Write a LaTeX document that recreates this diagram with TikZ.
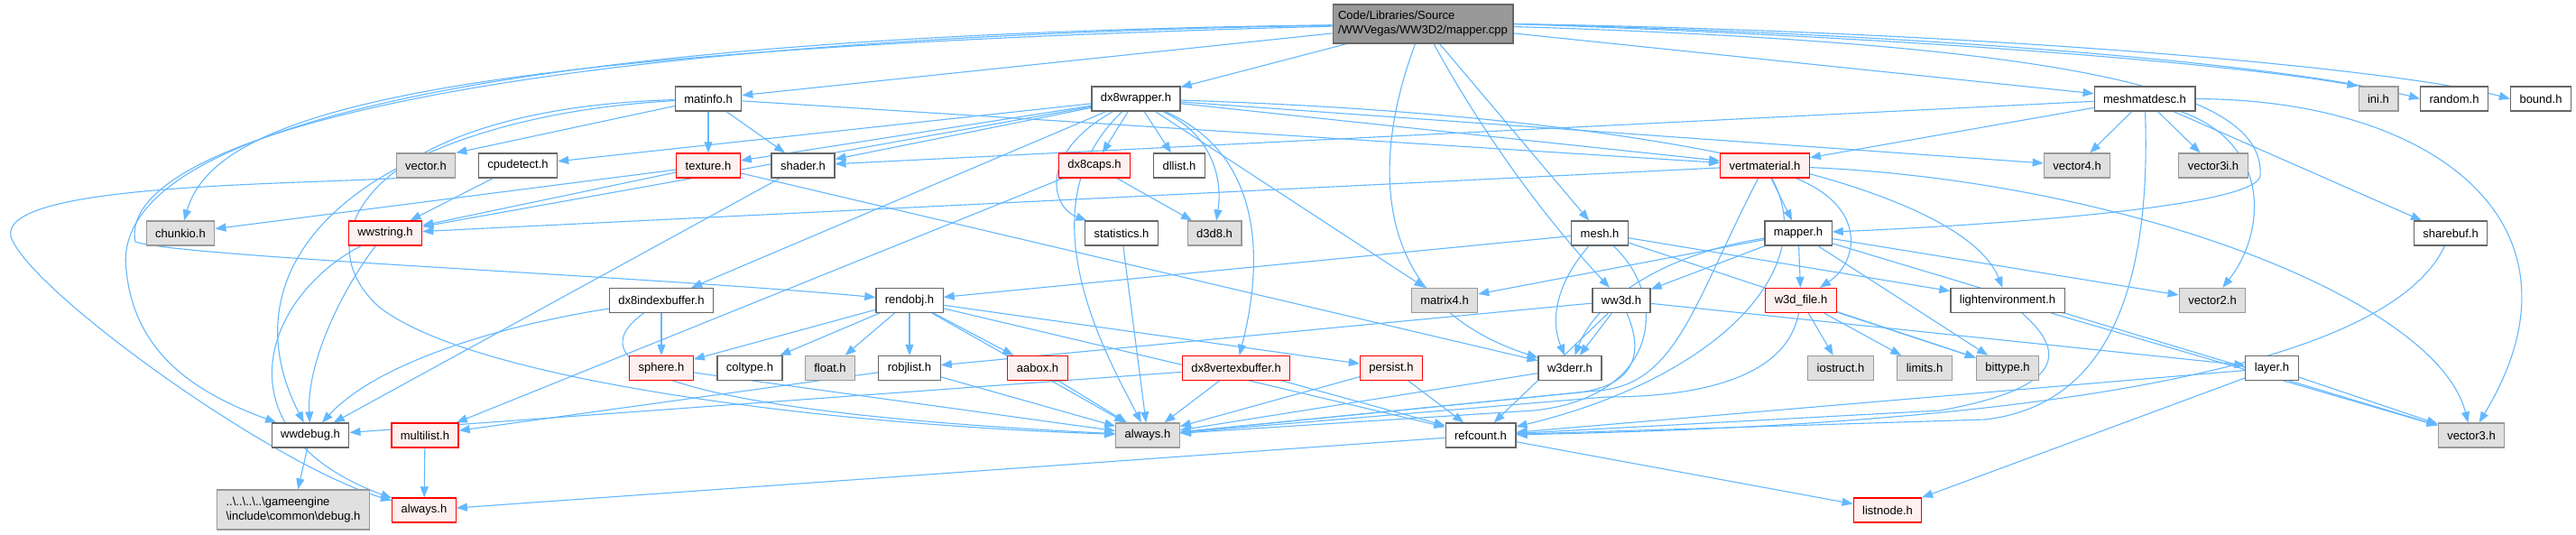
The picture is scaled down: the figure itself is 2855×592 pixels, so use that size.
\documentclass[tikz,border=0pt]{standalone}
\usepackage{fontspec}
\setmainfont{Liberation Sans}
\usetikzlibrary{arrows.meta,backgrounds}
\definecolor{edgeblue}{RGB}{99,184,255}
\definecolor{boxline}{RGB}{102,102,102}
\definecolor{extline}{RGB}{153,153,153}
\definecolor{extfill}{RGB}{224,224,224}
\definecolor{cutfill}{RGB}{255,240,240}
\definecolor{rootfill}{RGB}{153,153,153}

\begin{document}
\begin{tikzpicture}[
  x=1pt,y=-1pt,
  font=\fontsize{13}{16}\selectfont,
  hdr/.style={draw=boxline,fill=white,line width=1.2pt,
              minimum height=27pt,inner xsep=10pt,inner ysep=2pt},
  ext/.style={hdr,draw=extline,fill=extfill},
  cut/.style={hdr,draw=red,fill=cutfill},
  src/.style={hdr,fill=rootfill,align=left,inner xsep=6pt,minimum height=43pt},
  inc/.style={-{Triangle[length=12pt,width=9pt]},draw=edgeblue,line width=1.1pt}
]
\useasboundingbox (0,0) rectangle (2855,592);

% The file itself.
\node[src] (root) at (1577,26.5) {Code/Libraries/Source\\/WWVegas/WW3D2/mapper.cpp};

% First row of headers.
\node[hdr] (matinfo) at (785,109.5) {matinfo.h};
\node[hdr] (dxwrap)  at (1259,109.5) {dx8wrapper.h};
\node[hdr] (meshmat) at (2377,109.5) {meshmatdesc.h};
\node[ext] (ini)     at (2636,109.5) {ini.h};
\node[hdr] (random)  at (2720,109.5) {random.h};
\node[hdr] (bound)   at (2816,109.5) {bound.h};

% Second row.
\node[ext] (vectorh)   at (472,183.5) {vector.h};
\node[hdr] (cpudetect) at (574,183.5) {cpudetect.h};
\node[cut] (texture)   at (785,183.5) {texture.h};
\node[hdr] (shader)    at (890,183.5) {shader.h};
\node[cut] (dxcaps)    at (1213,183.5) {dx8caps.h};
\node[hdr] (dllist)    at (1307,183.5) {dllist.h};
\node[cut] (vertmat)   at (1956,183.5) {vertmaterial.h};
\node[ext] (vecfour)   at (2302,183.5) {vector4.h};
\node[ext] (vecthreei) at (2453,183.5) {vector3i.h};

% Third row.
\node[ext] (chunkio)    at (200,258.5) {chunkio.h};
\node[cut] (wwstring)   at (427,258.5) {wwstring.h};
\node[hdr] (statistics) at (1243,258.5) {statistics.h};
\node[ext] (dthreed)    at (1346,258.5) {d3d8.h};
\node[hdr] (mesh)       at (1773,258.5) {mesh.h};
\node[hdr] (mapperh)    at (1993,258.5) {mapper.h};
\node[hdr] (sharebuf)   at (2716,258.5) {sharebuf.h};

% Fourth row.
\node[hdr] (dxindex)  at (733,333) {dx8indexbuffer.h};
\node[hdr] (rendobj)  at (1008,333) {rendobj.h};
\node[ext] (matrix)   at (1601,333) {matrix4.h};
\node[hdr] (wwthreed) at (1797,333) {ww3d.h};
\node[cut] (wfile)    at (1996,333) {w3d\_file.h};
\node[hdr] (lightenv) at (2225,333) {lightenvironment.h};
\node[ext] (vectwo)   at (2452,333) {vector2.h};

% Fifth row.
\node[cut] (sphere)   at (733,408) {sphere.h};
\node[hdr] (coltype)  at (831,408) {coltype.h};
\node[ext] (float)    at (920,408) {float.h};
\node[hdr] (robjlist) at (1008,408) {robjlist.h};
\node[cut] (aabox)    at (1150,408) {aabox.h};
\node[cut] (dxvertex) at (1370,408) {dx8vertexbuffer.h};
\node[cut] (persist)  at (1542,408) {persist.h};
\node[hdr] (werr)     at (1740,408) {w3derr.h};
\node[ext] (iostruct) at (2040,408) {iostruct.h};
\node[ext] (limits)   at (2133,408) {limits.h};
\node[ext] (bittype)  at (2225,408) {bittype.h};
\node[hdr] (layer)    at (2518,408) {layer.h};

% Sixth row.
\node[hdr] (wwdebug)   at (344,482.5) {wwdebug.h};
\node[cut] (multilist) at (471,482.5) {multilist.h};
\node[ext] (alwaysg)   at (1272,482.5) {always.h};
\node[hdr] (refcount)  at (1641,482.5) {refcount.h};
\node[ext] (vecthree)  at (2739,482.5) {vector3.h};

% Bottom row.
\node[ext,align=left,minimum height=44pt] (debugh) at (325,565)
  {..\textbackslash..\textbackslash..\textbackslash..\textbackslash gameengine\\\textbackslash include\textbackslash common\textbackslash debug.h};
\node[cut] (alwaysr)  at (470,565.5) {always.h};
\node[cut] (listnode) at (2092,565.5) {listnode.h};

\begin{scope}[on background layer]
\fill[white] (0,0) rectangle (2855,592);

% mapper.cpp
\draw[inc] (root) -- (matinfo);
\draw[inc] (root) -- (dxwrap);
\draw[inc] (root) -- (meshmat);
\draw[inc] (root.east) .. controls (2200,45) and (2500,75) .. (ini.north west);
\draw[inc] (root.east) .. controls (2200,40) and (2550,75) .. (random.west);
\draw[inc] (root.east) .. controls (2200,35) and (2650,75) .. (bound.west);
\draw[inc] (root) .. controls (500,55) and (240,120) .. (chunkio);
\draw[inc] (root) .. controls (450,45) and (130,170) .. (150,268)
  .. controls (200,285) and (700,305) .. (rendobj);
\draw[inc] (root) .. controls (500,40) and (120,150) .. (140,300)
  .. controls (150,400) and (230,440) .. (wwdebug);
\draw[inc] (root) -- (mesh);
\draw[inc] (root) .. controls (1650,160) and (1720,250) .. (wwthreed);
\draw[inc] (root) .. controls (1530,150) and (1500,330) .. (werr);
\draw[inc] (root) .. controls (2350,50) and (2510,110) .. (2505,195)
  .. controls (2500,230) and (2200,250) .. (mapperh);

% matinfo.h
\draw[inc] (matinfo) -- (vectorh.north east);
\draw[inc] (matinfo) -- (texture);
\draw[inc] (matinfo) -- (shader);
\draw[inc] (matinfo) -- (vertmat);
\draw[inc] (matinfo) .. controls (420,130) and (240,280) .. (wwdebug);
\draw[inc] (matinfo) .. controls (420,120) and (330,260) .. (420,340)
  .. controls (520,420) and (900,470) .. (alwaysg);

% dx8wrapper.h
\draw[inc] (dxwrap) -- (cpudetect);
\draw[inc] (dxwrap) -- (texture);
\draw[inc] (dxwrap) -- (shader);
\draw[inc] (dxwrap) -- (wwstring);
\draw[inc] (dxwrap) -- (dxcaps);
\draw[inc] (dxwrap) -- (dllist);
\draw[inc] (dxwrap) .. controls (1150,170) and (1165,230) .. (statistics);
\draw[inc] (dxwrap) .. controls (1345,150) and (1355,200) .. (dthreed);
\draw[inc] (dxwrap) -- (matrix);
\draw[inc] (dxwrap) -- (vertmat);
\draw[inc] (dxwrap) -- (vecfour);
\draw[inc] (dxwrap) .. controls (1900,130) and (2180,220) .. (lightenv);
\draw[inc] (dxwrap) -- (dxindex);
\draw[inc] (dxwrap) .. controls (1420,180) and (1390,330) .. (dxvertex);
\draw[inc] (dxwrap) .. controls (1130,230) and (1230,400) .. (alwaysg);

% meshmatdesc.h
\draw[inc] (meshmat) -- (shader);
\draw[inc] (meshmat) -- (vertmat);
\draw[inc] (meshmat) -- (vecfour);
\draw[inc] (meshmat) -- (vecthreei);
\draw[inc] (meshmat) -- (sharebuf);
\draw[inc] (meshmat) .. controls (2520,160) and (2510,260) .. (vectwo);
\draw[inc] (meshmat) .. controls (2700,110) and (2880,250) .. (vecthree);
\draw[inc] (meshmat) .. controls (2385,330) and (2330,450) .. (2200,465) -- (refcount);

% second row
\draw[inc] (vectorh.south west) .. controls (300,205) and (0,205) .. (12,262)
  .. controls (30,320) and (300,515) .. (alwaysr);
\draw[inc] (cpudetect) -- (wwstring);
\draw[inc] (texture) -- (chunkio);
\draw[inc] (texture) -- (wwstring);
\draw[inc] (texture) -- (werr);
\draw[inc] (shader) -- (wwdebug);
\draw[inc] (dxcaps) -- (dthreed);
\draw[inc] (dxcaps) -- (multilist);
\draw[inc] (vertmat) -- (wwstring);
\draw[inc] (vertmat) -- (mapperh);
\draw[inc] (vertmat) .. controls (2070,230) and (2060,290) .. (wfile);
\draw[inc] (vertmat) .. controls (1880,330) and (1860,420) .. (1780,432) -- (alwaysg);
\draw[inc] (vertmat) .. controls (2020,300) and (1900,420) .. (refcount);
\draw[inc] (vertmat) .. controls (2350,200) and (2700,330) .. (vecthree);

% third row
\draw[inc] (wwstring) .. controls (380,320) and (340,400) .. (wwdebug);
\draw[inc] (wwstring) .. controls (290,330) and (240,480) .. (alwaysr);
\draw[inc] (statistics) -- (alwaysg);
\draw[inc] (mesh) -- (rendobj);
\draw[inc] (mesh) .. controls (1720,320) and (1720,360) .. (werr);
\draw[inc] (mesh) .. controls (1850,330) and (1840,440) .. (1700,455) -- (alwaysg);
\draw[inc] (mesh) -- (lightenv);
\draw[inc] (mesh) -- (bittype);
\draw[inc] (mapperh) -- (matrix);
\draw[inc] (mapperh) -- (wwthreed);
\draw[inc] (mapperh) -- (wfile);
\draw[inc] (mapperh) -- (vectwo);
\draw[inc] (mapperh) .. controls (1850,280) and (1770,330) .. (werr);
\draw[inc] (mapperh) -- (bittype);
\draw[inc] (mapperh) -- (vecthree);
\draw[inc] (sharebuf) .. controls (2650,400) and (2300,470) .. (refcount);

% fourth row
\draw[inc] (dxindex) -- (sphere);
\draw[inc] (dxindex) .. controls (560,360) and (420,400) .. (wwdebug);
\draw[inc] (dxindex) .. controls (640,400) and (720,455) .. (alwaysg);
\draw[inc] (rendobj) -- (sphere);
\draw[inc] (rendobj) -- (coltype);
\draw[inc] (rendobj) -- (float);
\draw[inc] (rendobj) -- (robjlist);
\draw[inc] (rendobj) -- (aabox);
\draw[inc] (rendobj) -- (persist);
\draw[inc] (rendobj) -- (alwaysg);
\draw[inc] (rendobj) -- (refcount);
\draw[inc] (wwthreed) -- (robjlist);
\draw[inc] (wwthreed) -- (werr);
\draw[inc] (wwthreed) .. controls (1830,410) and (1790,430) .. (1750,435) -- (alwaysg);
\draw[inc] (wwthreed) -- (refcount);
\draw[inc] (wwthreed) -- (layer);
\draw[inc] (wfile) -- (iostruct);
\draw[inc] (wfile) -- (limits);
\draw[inc] (wfile) -- (bittype);
\draw[inc] (wfile) .. controls (1980,420) and (1880,440) .. (1780,440) -- (alwaysg);
\draw[inc] (lightenv) -- (vecthree);
\draw[inc] (lightenv) .. controls (2290,390) and (2290,430) .. (2150,455) -- (refcount);

% fifth row
\draw[inc] (sphere) -- (alwaysg);
\draw[inc] (robjlist) -- (multilist);
\draw[inc] (robjlist) -- (alwaysg);
\draw[inc] (aabox) -- (alwaysg);
\draw[inc] (dxvertex) -- (wwdebug);
\draw[inc] (dxvertex) -- (alwaysg);
\draw[inc] (dxvertex) -- (refcount);
\draw[inc] (persist) -- (alwaysg);
\draw[inc] (persist) -- (refcount);
\draw[inc] (werr) -- (alwaysg);
\draw[inc] (layer) -- (refcount);
\draw[inc] (layer) -- (listnode);
\draw[inc] (layer) -- (vecthree);

% sixth row
\draw[inc] (wwdebug) -- (debugh);
\draw[inc] (multilist) -- (alwaysr);
\draw[inc] (refcount) -- (alwaysr);
\draw[inc] (refcount) -- (listnode);
\end{scope}

\end{tikzpicture}
\end{document}
